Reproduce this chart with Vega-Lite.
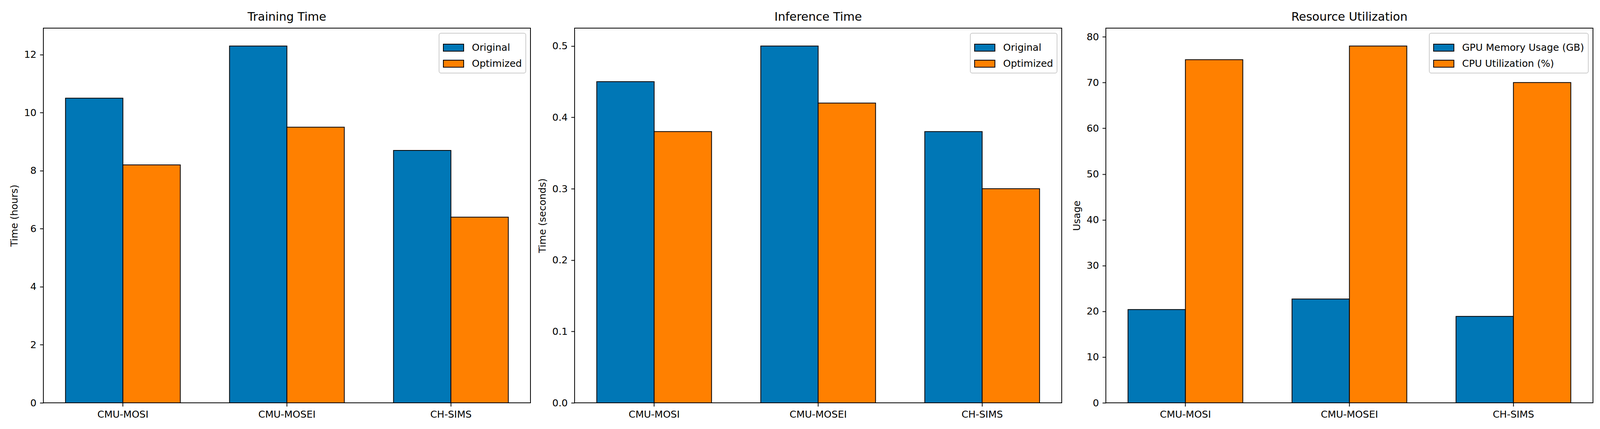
{
  "$schema": "https://vega.github.io/schema/vega-lite/v6.json",
  "background": "white",
  "padding": {"left": 23, "top": 28, "right": 5, "bottom": 5},
  "bounds": "flush",
  "spacing": 113,
  "config": {
    "font": "DejaVu Sans",
    "view": {"stroke": "black", "strokeWidth": 2},
    "axis": {
      "labelFont": "DejaVu Sans", "labelFontSize": 25, "labelColor": "black",
      "titleFont": "DejaVu Sans", "titleFontSize": 25, "titleFontWeight": "normal", "titleColor": "black",
      "tickColor": "black", "tickWidth": 2, "tickSize": 9, "domain": false, "grid": false
    },
    "axisY": {"labelPadding": 9, "titlePadding": 12},
    "axisX": {"labelPadding": 8, "labelAngle": 0},
    "title": {"font": "DejaVu Sans", "fontSize": 30, "fontWeight": "normal", "color": "black", "anchor": "middle", "frame": "group", "baseline": "alphabetic", "offset": 13},
    "legend": {
      "orient": "top-right", "offset": 12.5, "padding": 10, "cornerRadius": 5,
      "strokeColor": "#cccccc", "strokeWidth": 2, "fillColor": "rgba(255,255,255,0.8)",
      "labelFont": "DejaVu Sans", "labelFontSize": 25, "labelColor": "black", "labelOffset": 20, "labelLimit": 0,
      "symbolType": "M-1,-0.35L1,-0.35L1,0.35L-1,0.35Z", "symbolSize": 2704,
      "symbolStrokeColor": "black", "symbolStrokeWidth": 2, "symbolOpacity": 1, "rowPadding": -5, "title": null
    },
    "bar": {"stroke": "black", "strokeWidth": 2}
  },
  "resolve": {"scale": {"x": "independent", "xOffset": "independent", "y": "independent", "color": "independent"}, "legend": {"color": "independent"}, "axis": {"x": "independent", "y": "independent"}},
  "hconcat": [
    {
      "title": "Training Time",
      "width": 1247, "height": 959,
      "data": {"values": [
        {"dataset": "CMU-MOSI", "series": "Original", "value": 10.5},
        {"dataset": "CMU-MOSI", "series": "Optimized", "value": 8.2},
        {"dataset": "CMU-MOSEI", "series": "Original", "value": 12.3},
        {"dataset": "CMU-MOSEI", "series": "Optimized", "value": 9.5},
        {"dataset": "CH-SIMS", "series": "Original", "value": 8.7},
        {"dataset": "CH-SIMS", "series": "Optimized", "value": 6.4}
      ]},
      "mark": {"type": "bar"},
      "encoding": {
        "x": {"field": "dataset", "type": "nominal", "sort": ["CMU-MOSI", "CMU-MOSEI", "CH-SIMS"], "scale": {"paddingInner": 0.3, "paddingOuter": 0.135}, "axis": {"title": null}},
        "xOffset": {"field": "series", "type": "nominal", "sort": ["Original", "Optimized"], "scale": {"paddingInner": 0, "paddingOuter": 0}},
        "y": {"field": "value", "type": "quantitative", "scale": {"domain": [0, 12.915], "nice": false}, "axis": {"title": "Time (hours)", "values": [0, 2, 4, 6, 8, 10, 12]}},
        "color": {"field": "series", "type": "nominal", "scale": {"domain": ["Original", "Optimized"], "range": ["#0077b6", "#ff8000"]}}
      }
    },
    {
      "title": "Inference Time",
      "width": 1247, "height": 959,
      "data": {"values": [
        {"dataset": "CMU-MOSI", "series": "Original", "value": 0.45},
        {"dataset": "CMU-MOSI", "series": "Optimized", "value": 0.38},
        {"dataset": "CMU-MOSEI", "series": "Original", "value": 0.50},
        {"dataset": "CMU-MOSEI", "series": "Optimized", "value": 0.42},
        {"dataset": "CH-SIMS", "series": "Original", "value": 0.38},
        {"dataset": "CH-SIMS", "series": "Optimized", "value": 0.30}
      ]},
      "mark": {"type": "bar"},
      "encoding": {
        "x": {"field": "dataset", "type": "nominal", "sort": ["CMU-MOSI", "CMU-MOSEI", "CH-SIMS"], "scale": {"paddingInner": 0.3, "paddingOuter": 0.135}, "axis": {"title": null}},
        "xOffset": {"field": "series", "type": "nominal", "sort": ["Original", "Optimized"], "scale": {"paddingInner": 0, "paddingOuter": 0}},
        "y": {"field": "value", "type": "quantitative", "scale": {"domain": [0, 0.525], "nice": false}, "axis": {"title": "Time (seconds)", "values": [0, 0.1, 0.2, 0.3, 0.4, 0.5], "format": ".1f"}},
        "color": {"field": "series", "type": "nominal", "scale": {"domain": ["Original", "Optimized"], "range": ["#0077b6", "#ff8000"]}}
      }
    },
    {
      "title": "Resource Utilization",
      "width": 1247, "height": 959,
      "data": {"values": [
        {"dataset": "CMU-MOSI", "series": "GPU Memory Usage (GB)", "value": 20.4},
        {"dataset": "CMU-MOSI", "series": "CPU Utilization (%)", "value": 75},
        {"dataset": "CMU-MOSEI", "series": "GPU Memory Usage (GB)", "value": 22.7},
        {"dataset": "CMU-MOSEI", "series": "CPU Utilization (%)", "value": 78},
        {"dataset": "CH-SIMS", "series": "GPU Memory Usage (GB)", "value": 18.9},
        {"dataset": "CH-SIMS", "series": "CPU Utilization (%)", "value": 70}
      ]},
      "mark": {"type": "bar"},
      "encoding": {
        "x": {"field": "dataset", "type": "nominal", "sort": ["CMU-MOSI", "CMU-MOSEI", "CH-SIMS"], "scale": {"paddingInner": 0.3, "paddingOuter": 0.135}, "axis": {"title": null}},
        "xOffset": {"field": "series", "type": "nominal", "sort": ["GPU Memory Usage (GB)", "CPU Utilization (%)"], "scale": {"paddingInner": 0, "paddingOuter": 0}},
        "y": {"field": "value", "type": "quantitative", "scale": {"domain": [0, 81.9], "nice": false}, "axis": {"title": "Usage", "values": [0, 10, 20, 30, 40, 50, 60, 70, 80]}},
        "color": {"field": "series", "type": "nominal", "scale": {"domain": ["GPU Memory Usage (GB)", "CPU Utilization (%)"], "range": ["#0077b6", "#ff8000"]}}
      }
    }
  ]
}
